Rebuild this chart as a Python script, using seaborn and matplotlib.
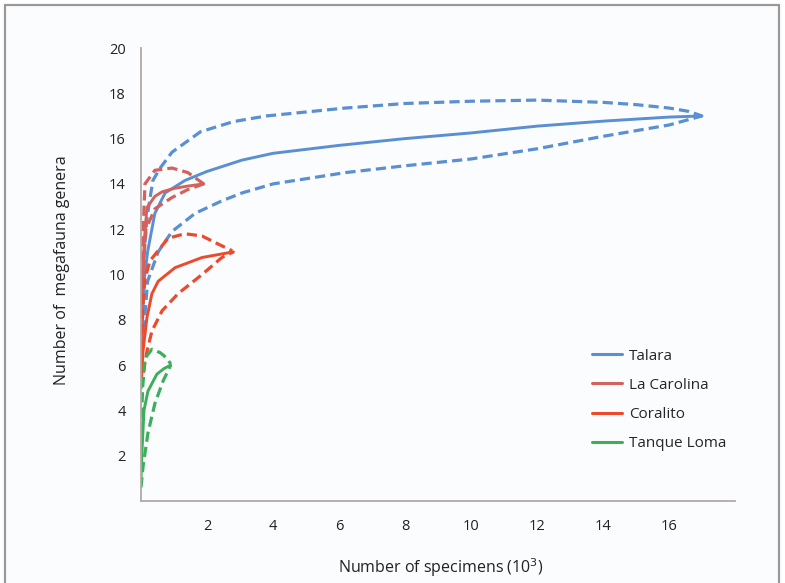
import numpy as np
import pandas as pd
import matplotlib
matplotlib.use("Agg")
import matplotlib.pyplot as plt
from matplotlib.patches import Rectangle
from matplotlib.lines import Line2D
import seaborn as sns

# rarefaction curves (x in thousands of specimens)
talara_x = [0.0, 0.05, 0.1, 0.2, 0.42, 0.73, 1.33, 2.0, 3.06, 4.0, 6.0, 8.0, 10.0, 12.0, 14.0, 16.0, 17.0]
talara_mean = [5.0, 8.0, 9.8, 11.0, 12.7, 13.6, 14.15, 14.55, 15.05, 15.35, 15.7, 16.0, 16.25, 16.55, 16.77, 16.95, 17.0]
talara_up_x = [0.0, 0.05, 0.1, 0.18, 0.36, 0.58, 0.94, 1.8, 2.8, 3.8, 6.2, 8.0, 10.0, 12.0, 14.0, 15.0, 16.0, 16.6, 17.0]
talara_up = [6.0, 9.0, 11.0, 12.5, 14.15, 14.7, 15.4, 16.3, 16.75, 17.0, 17.35, 17.55, 17.65, 17.7, 17.6, 17.5, 17.35, 17.2, 17.0]
talara_lo_x = [0.0, 0.08, 0.2, 0.52, 0.94, 1.64, 2.45, 3.06, 4.0, 6.2, 8.0, 10.0, 12.0, 14.0, 16.0, 17.0]
talara_lo = [5.5, 7.5, 9.7, 11.0, 11.9, 12.7, 13.25, 13.6, 14.0, 14.5, 14.8, 15.1, 15.55, 16.1, 16.6, 17.0]

carolina_x = [0.0, 0.05, 0.1, 0.18, 0.42, 0.64, 1.0, 1.4, 1.9]
carolina_mean = [6.0, 9.5, 11.5, 12.95, 13.45, 13.65, 13.8, 13.9, 14.0]
carolina_up_x = [0.0, 0.04, 0.12, 0.42, 0.94, 1.42, 1.9]
carolina_up = [6.5, 11.0, 14.0, 14.6, 14.7, 14.5, 14.0]
carolina_lo_x = [0.0, 0.05, 0.15, 0.42, 0.94, 1.42, 1.9]
carolina_lo = [5.5, 10.0, 12.0, 12.9, 13.4, 13.75, 14.0]

coralito_x = [0.0, 0.06, 0.18, 0.33, 0.52, 1.03, 1.85, 2.8]
coralito_mean = [5.0, 6.6, 8.1, 9.15, 9.7, 10.3, 10.75, 11.0]
coralito_up_x = [0.0, 0.05, 0.12, 0.27, 0.82, 1.33, 1.85, 2.33, 2.76]
coralito_up = [6.0, 8.5, 9.8, 10.6, 11.6, 11.8, 11.7, 11.35, 11.05]
coralito_lo_x = [0.0, 0.12, 0.18, 0.33, 0.64, 1.12, 1.85, 2.45, 2.8]
coralito_lo = [5.0, 6.1, 6.6, 7.5, 8.4, 9.15, 10.0, 10.75, 11.0]

loma_x = [0.0, 0.03, 0.09, 0.21, 0.48, 0.7, 0.9]
loma_mean = [1.0, 2.2, 4.0, 4.85, 5.6, 5.85, 6.0]
loma_up_x = [0.0, 0.05, 0.12, 0.33, 0.58, 0.79, 0.9]
loma_up = [3.0, 5.0, 6.3, 6.7, 6.55, 6.3, 6.05]
loma_lo_x = [0.0, 0.06, 0.21, 0.42, 0.67, 0.9]
loma_lo = [0.6, 1.5, 3.0, 4.3, 5.3, 6.0]

sites = ["Talara", "La Carolina", "Coralito", "Tanque Loma"]
colors = {"Talara": "#5a8fd2", "La Carolina": "#d4625c",
          "Coralito": "#ec4a2c", "Tanque Loma": "#3fae5a"}

curves = {
    "Talara": [(talara_x, talara_mean, "mean"), (talara_up_x, talara_up, "ci"), (talara_lo_x, talara_lo, "ci")],
    "La Carolina": [(carolina_x, carolina_mean, "mean"), (carolina_up_x, carolina_up, "ci"), (carolina_lo_x, carolina_lo, "ci")],
    "Coralito": [(coralito_x, coralito_mean, "mean"), (coralito_up_x, coralito_up, "ci"), (coralito_lo_x, coralito_lo, "ci")],
    "Tanque Loma": [(loma_x, loma_mean, "mean"), (loma_up_x, loma_up, "ci"), (loma_lo_x, loma_lo, "ci")],
}

sns.set_style("white")
plt.rcParams["font.family"] = ["Open Sans", "DejaVu Sans"]

fig = plt.figure(figsize=(7.85, 5.83), dpi=100)
fig.patch.set_facecolor("white")
# grey frame round the panel, drawn behind the axes
fig.patches.append(Rectangle((5 / 785, -0.02), 774 / 785, 1 - 5 / 583 + 0.02,
                             transform=fig.transFigure, facecolor="#fbfcfe",
                             edgecolor="#9a9a9a", lw=1.6, zorder=-10))
ax = fig.add_axes([141 / 785, 1 - 501 / 583, 594 / 785, 453 / 583])
ax.set_facecolor("none")

for site in sites:
    for xs, ys, kind in curves[site]:
        df = pd.DataFrame({"x": xs, "y": ys})
        if kind == "mean":
            sns.lineplot(data=df, x="x", y="y", sort=False, estimator=None, ax=ax,
                         color=colors[site], lw=2.1, solid_joinstyle="round")
        else:
            sns.lineplot(data=df, x="x", y="y", sort=False, estimator=None, ax=ax,
                         color=colors[site], lw=2.3, linestyle=(0, (3.2, 1.6)),
                         dash_joinstyle="round")

ax.set_xlim(0, 18)
ax.set_ylim(0, 20)
ax.set_xticks(np.arange(2, 17, 2))
ax.set_yticks(np.arange(2, 21, 2))
ax.set_xticks([0, 18], minor=True)
ax.set_yticks([0, 20], minor=True)

spine_col = "#b3a8a8"
for side in ["top", "right"]:
    ax.spines[side].set_visible(False)
for side in ["left", "bottom"]:
    ax.spines[side].set_color(spine_col)
    ax.spines[side].set_linewidth(1.3)
ax.tick_params(axis="both", which="both", length=4, width=1, color=spine_col,
               labelsize=10.5, labelcolor="#222222", direction="out")
ax.tick_params(axis="x", pad=9)
ax.tick_params(axis="y", pad=7)

ax.set_xlabel("Number of specimens (10$^3$)", fontsize=11.5, color="#222222")
ax.set_ylabel("Number of  megafauna genera", fontsize=11.5, color="#222222")
ax.xaxis.set_label_coords(0.505, -0.122)
ax.yaxis.set_label_coords(-0.12, 0.51)

handles = [Line2D([0], [0], color=colors[s], lw=2.2) for s in sites]
ax.legend(handles, sites, loc="upper left", bbox_to_anchor=(578 / 785, 1 - 335 / 583),
          bbox_transform=fig.transFigure, frameon=False, fontsize=11,
          handlelength=2.0, handletextpad=0.45, labelspacing=0.92)

fig.savefig("out.png", dpi=100)
